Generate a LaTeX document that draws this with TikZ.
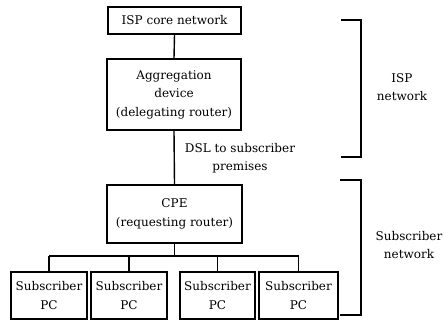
\documentclass[tikz,border=0pt]{standalone}
\usepackage{fontspec}
\setmainfont{DejaVu Serif}
\begin{document}
\begin{tikzpicture}[x=1pt,y=1pt,
  line width=1.4pt,
  every node/.style={font=\fontsize{12}{18.5}\selectfont, align=center, inner sep=0pt},
  box/.style={draw, line width=1.4pt, minimum width=#1},
  wire/.style={draw, line width=1.4pt},
  brace/.style={draw, line width=1.5pt}]
\useasboundingbox (0,0) rectangle (444,-320);

% ISP side
\node[box=133, minimum height=27] (core) at (174.5,-20.5) {ISP core network};
\node[box=134, minimum height=71] (agg) at (174,-94.5) {Aggregation\\device\\(delegating router)};
\node (dsl) at (240,-158) {DSL to subscriber\\premises};

% subscriber side
\node[box=135, minimum height=58] (cpe) at (174.5,-214) {CPE\\(requesting router)};
\node[box=76, minimum height=47] (pc1) at (49,-295.5) {Subscriber\\PC};
\node[box=76, minimum height=47] (pc2) at (129,-295.5) {Subscriber\\PC};
\node[box=75, minimum height=47] (pc3) at (217.5,-295.5) {Subscriber\\PC};
\node[box=79, minimum height=47] (pc4) at (298.5,-295.5) {Subscriber\\PC};

\draw[wire] (core.south) -- (agg.north);
\draw[wire] (agg.south) -- (cpe.north);

% distribution bus below the CPE
\coordinate (bus) at (174.5,-256);
\draw[wire] (cpe.south) -- (bus);
\draw[wire] (pc1.north |- bus) -- (pc4.north |- bus);
\foreach \p in {pc1,pc2,pc3,pc4} \draw[wire] (\p.north |- bus) -- (\p.north);

% brackets grouping the two networks
\coordinate (i1) at (341,-20);
\coordinate (i2) at (361,-20);
\coordinate (i3) at (361,-157);
\coordinate (i4) at (341,-157);
\draw[brace] (i1) -- (i2) -- (i3) -- (i4);
\node (ispnet) at (402,-87) {ISP\\network};

\coordinate (s1) at (340,-180);
\coordinate (s2) at (361,-180);
\coordinate (s3) at (361,-315);
\coordinate (s4) at (340,-315);
\draw[brace] (s1) -- (s2) -- (s3) -- (s4);
\node (subnet) at (409,-245) {Subscriber\\network};
\end{tikzpicture}
\end{document}
